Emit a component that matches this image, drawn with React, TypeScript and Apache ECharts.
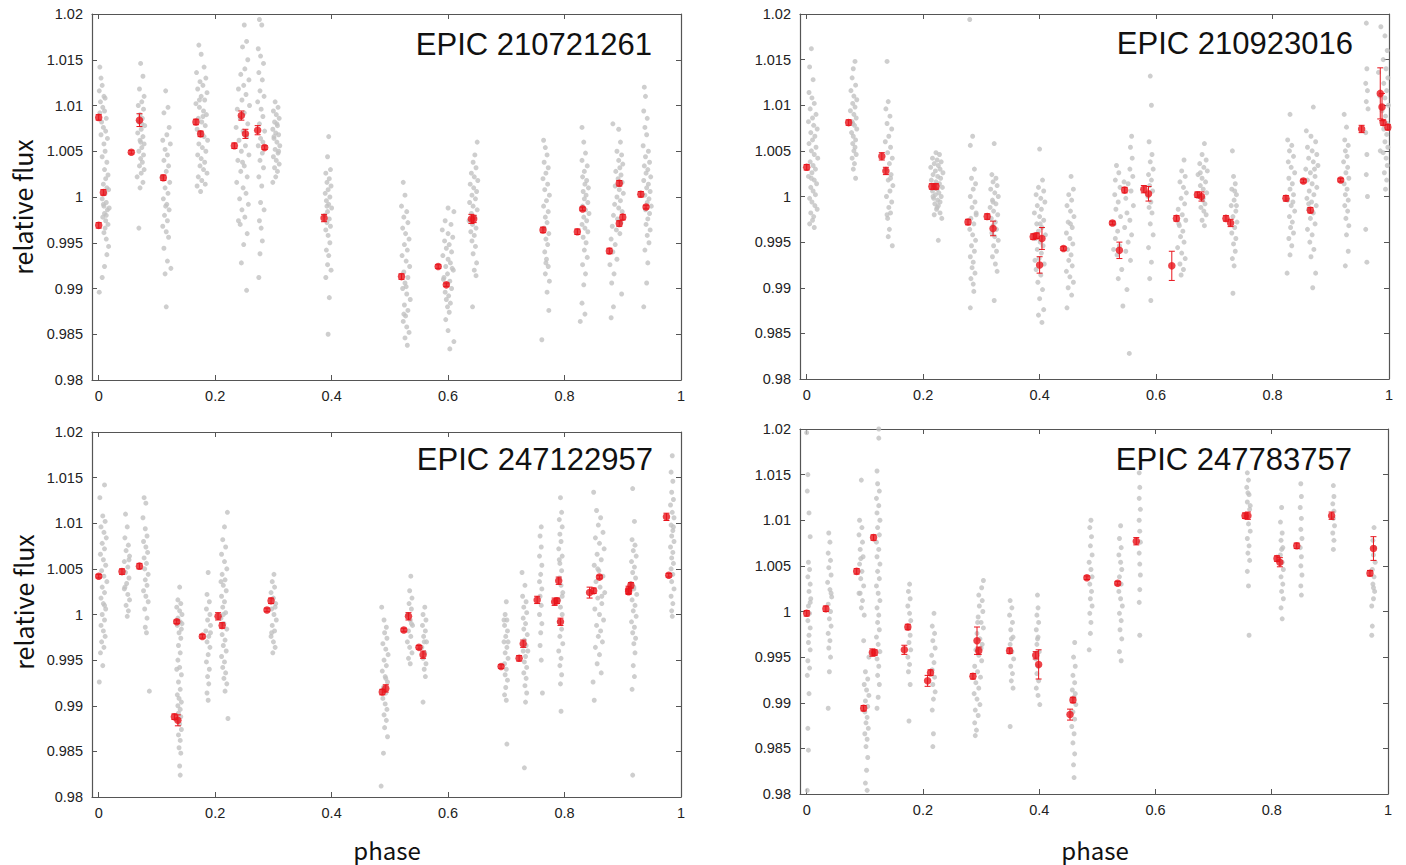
import React, { useEffect, useRef } from "react";
import * as echarts from "echarts";

// ---- tick labels / titles ----
const xTicks = [0, 0.2, 0.4, 0.6, 0.8, 1];
const yMin = 0.98;
const yMax = 1.02;
const yStep = 0.005;
const titles = ["EPIC 210721261", "EPIC 210923016", "EPIC 247122957", "EPIC 247783757"];
const yName = "relative flux";
const xName = "phase";

// gray points: [phase, (flux-1)*1000]
const grayA: number[][][] = [
  [[0.002,14.2],[0.004,13.0],[0.001,11.6],[0.006,12.2],[0.009,11.0],[0.003,10.4],[0.011,10.8],[0.007,9.8],[0.002,9.2],[0.010,9.4],[0.013,8.6],[0.005,8.2],[0.008,7.6],[0.012,7.2],[0.004,6.8],[0.015,6.4],[0.009,5.8],[0.011,5.0],[0.006,4.4],[0.014,3.8],[0.010,3.0],[0.016,2.4],[0.012,2.0],[0.008,1.4],[0.014,1.0],[0.011,0.4],[0.006,-0.2],[0.013,-0.6],[0.009,-1.0],[0.015,-1.4],[0.010,-1.8],[0.007,-2.2],[0.012,-2.6],[0.016,-3.0],[0.011,-3.4],[0.009,-3.9],[0.013,-4.6],[0.017,-5.4],[0.014,-6.3],[0.010,-7.6],[0.006,-8.8],[0.001,-10.4],[0.018,-1.2],[0.017,0.8],[0.013,-2.0],[0.008,-0.8]],
  [[0.072,14.6],[0.076,13.2],[0.070,11.8],[0.078,11.0],[0.074,10.4],[0.068,10.0],[0.077,9.6],[0.071,9.0],[0.075,8.6],[0.069,8.2],[0.079,7.8],[0.073,7.4],[0.067,7.0],[0.076,6.6],[0.071,6.2],[0.078,5.8],[0.074,5.4],[0.069,5.0],[0.077,4.6],[0.072,4.2],[0.075,3.8],[0.070,3.4],[0.078,3.0],[0.073,2.6],[0.066,2.2],[0.076,1.6],[0.071,1.0],[0.069,-3.4],[0.074,8.0],[0.072,6.0]],
  [[0.115,11.6],[0.119,9.8],[0.112,9.2],[0.121,7.6],[0.117,6.8],[0.110,6.2],[0.123,5.8],[0.114,5.2],[0.118,4.6],[0.112,4.0],[0.120,3.4],[0.116,2.8],[0.109,2.2],[0.122,1.6],[0.114,1.0],[0.119,0.4],[0.111,-0.2],[0.117,-0.8],[0.121,-1.4],[0.113,-2.0],[0.118,-2.6],[0.110,-3.2],[0.116,-3.8],[0.120,-4.4],[0.112,-5.6],[0.118,-7.0],[0.114,-8.4],[0.124,-7.8],[0.116,-12.0],[0.115,-1.0]],
  [[0.172,16.6],[0.176,15.6],[0.181,14.2],[0.168,13.6],[0.184,13.0],[0.174,12.6],[0.179,12.2],[0.170,11.8],[0.186,11.4],[0.176,11.0],[0.182,10.6],[0.167,10.2],[0.173,9.8],[0.180,9.4],[0.185,9.0],[0.171,8.6],[0.177,8.2],[0.183,7.8],[0.169,7.4],[0.175,7.0],[0.181,6.6],[0.187,6.2],[0.172,5.8],[0.178,5.4],[0.184,5.0],[0.170,4.6],[0.176,4.2],[0.182,3.8],[0.174,3.4],[0.180,3.0],[0.186,2.6],[0.171,2.2],[0.177,1.8],[0.169,1.2],[0.175,0.6],[0.183,1.4],[0.179,8.8],[0.173,10.6]],
  [[0.250,18.8],[0.254,17.0],[0.247,16.4],[0.256,15.0],[0.251,14.0],[0.244,13.4],[0.258,12.8],[0.249,12.2],[0.240,11.8],[0.253,11.2],[0.246,10.6],[0.259,10.0],[0.238,9.6],[0.250,9.2],[0.243,8.6],[0.256,8.0],[0.236,7.6],[0.248,7.2],[0.254,6.6],[0.241,6.2],[0.252,5.6],[0.245,5.0],[0.258,4.6],[0.239,4.0],[0.250,3.4],[0.244,2.8],[0.255,2.2],[0.237,1.6],[0.248,1.0],[0.253,0.4],[0.242,-0.2],[0.257,-0.8],[0.246,-1.4],[0.251,-2.2],[0.243,-3.0],[0.255,-4.0],[0.249,-5.2],[0.245,-7.2],[0.254,-10.2],[0.240,-2.6],[0.247,3.8]],
  [[0.276,19.4],[0.280,18.8],[0.274,16.2],[0.278,15.4],[0.283,14.6],[0.275,13.6],[0.281,12.8],[0.277,11.6],[0.284,11.0],[0.273,10.4],[0.279,9.6],[0.282,8.8],[0.276,8.0],[0.285,7.2],[0.278,6.4],[0.274,5.6],[0.281,4.8],[0.277,4.0],[0.283,3.2],[0.275,2.2],[0.280,1.2],[0.278,-0.6],[0.276,-2.6],[0.279,-3.4],[0.281,-4.8],[0.277,-6.2],[0.275,-8.8],[0.284,-1.4],[0.282,6.0]],
  [[0.303,10.4],[0.308,9.8],[0.300,9.4],[0.305,9.0],[0.310,8.6],[0.302,8.2],[0.307,7.8],[0.299,7.4],[0.304,7.0],[0.309,6.8],[0.301,6.4],[0.306,6.0],[0.311,5.6],[0.303,5.2],[0.308,4.8],[0.300,4.4],[0.305,4.0],[0.310,3.6],[0.302,3.2],[0.307,2.8],[0.304,2.2],[0.299,1.6],[0.306,8.0],[0.309,5.0],[0.301,6.6]],
  [[0.395,6.6],[0.393,4.4],[0.398,3.0],[0.390,2.6],[0.396,2.0],[0.392,1.6],[0.399,1.2],[0.394,0.8],[0.389,0.4],[0.397,0.0],[0.391,-0.4],[0.395,-0.8],[0.400,-1.2],[0.393,-1.6],[0.388,-2.0],[0.396,-2.4],[0.392,-2.8],[0.398,-3.2],[0.390,-3.6],[0.394,-4.2],[0.397,-5.0],[0.391,-5.8],[0.395,-6.4],[0.393,-7.4],[0.399,-8.0],[0.390,-8.8],[0.396,-11.0],[0.394,-15.0],[0.392,-1.0]],
  [[0.523,1.6],[0.526,0.2],[0.520,-1.0],[0.529,-1.6],[0.524,-2.2],[0.531,-2.8],[0.522,-3.4],[0.527,-4.0],[0.533,-4.6],[0.525,-5.2],[0.530,-5.8],[0.521,-6.4],[0.528,-7.0],[0.534,-7.6],[0.524,-8.2],[0.531,-8.8],[0.526,-9.4],[0.522,-10.0],[0.529,-10.6],[0.535,-11.2],[0.525,-11.8],[0.531,-12.4],[0.527,-13.0],[0.523,-13.6],[0.529,-14.2],[0.533,-14.8],[0.526,-15.4],[0.530,-16.2],[0.524,-12.8],[0.528,-9.8]],
  [[0.600,-1.2],[0.610,-1.6],[0.595,-2.6],[0.605,-3.0],[0.590,-3.6],[0.600,-4.0],[0.608,-4.4],[0.594,-4.8],[0.602,-5.2],[0.597,-5.6],[0.606,-6.0],[0.591,-6.4],[0.600,-6.8],[0.604,-7.2],[0.596,-7.6],[0.609,-8.0],[0.599,-8.4],[0.593,-8.8],[0.603,-9.2],[0.598,-9.6],[0.606,-10.0],[0.595,-10.4],[0.601,-10.8],[0.597,-11.2],[0.604,-11.6],[0.599,-12.0],[0.602,-12.6],[0.596,-13.4],[0.600,-14.6],[0.610,-15.8],[0.603,-16.6],[0.592,-9.0],[0.607,-7.8]],
  [[0.650,6.0],[0.646,4.6],[0.643,3.8],[0.648,3.2],[0.640,2.6],[0.645,2.2],[0.651,1.8],[0.638,1.4],[0.644,1.0],[0.649,0.6],[0.641,0.2],[0.647,-0.2],[0.637,-0.6],[0.643,-1.0],[0.650,-1.4],[0.640,-1.8],[0.646,-2.2],[0.636,-2.6],[0.642,-3.0],[0.648,-3.4],[0.639,-3.8],[0.645,-4.2],[0.641,-4.8],[0.647,-5.4],[0.643,-6.2],[0.649,-7.2],[0.645,-8.0],[0.648,-8.6],[0.642,-12.0]],
  [[0.764,6.2],[0.767,5.4],[0.770,4.6],[0.765,3.8],[0.772,3.2],[0.768,2.6],[0.763,2.0],[0.771,1.4],[0.766,0.8],[0.774,0.2],[0.769,-0.4],[0.764,-1.0],[0.772,-1.6],[0.767,-2.2],[0.770,-2.8],[0.765,-3.4],[0.773,-4.0],[0.768,-4.6],[0.771,-5.2],[0.766,-6.0],[0.769,-6.8],[0.772,-7.6],[0.767,-8.4],[0.774,-9.2],[0.770,-10.4],[0.773,-12.4],[0.768,-7.2],[0.761,-15.6]],
  [[0.830,7.6],[0.833,6.0],[0.836,4.8],[0.830,4.0],[0.839,3.4],[0.834,2.8],[0.831,2.2],[0.838,1.8],[0.835,1.4],[0.841,1.0],[0.832,0.6],[0.837,0.2],[0.834,-0.2],[0.840,-0.6],[0.831,-1.0],[0.836,-1.4],[0.842,-1.8],[0.833,-2.2],[0.838,-2.6],[0.830,-3.0],[0.835,-3.4],[0.840,-3.8],[0.832,-4.4],[0.837,-5.0],[0.834,-5.8],[0.839,-6.6],[0.831,-7.4],[0.836,-8.4],[0.833,-9.6],[0.830,-11.6],[0.827,-13.6],[0.835,-12.8]],
  [[0.883,8.0],[0.893,7.4],[0.896,6.0],[0.890,5.0],[0.898,4.6],[0.893,4.0],[0.900,3.6],[0.895,3.2],[0.888,2.8],[0.897,2.4],[0.892,2.0],[0.899,1.6],[0.887,1.2],[0.894,0.8],[0.901,0.4],[0.890,0.0],[0.896,-0.4],[0.886,-0.8],[0.893,-1.2],[0.899,-1.6],[0.884,-2.0],[0.891,-2.4],[0.897,-2.8],[0.882,-3.2],[0.889,-3.6],[0.895,-4.0],[0.880,-4.6],[0.887,-5.2],[0.883,-6.0],[0.890,-6.8],[0.878,-7.4],[0.885,-8.4],[0.881,-9.4],[0.898,-10.6],[0.884,-12.0],[0.880,-13.2]],
  [[0.937,12.0],[0.939,11.0],[0.936,9.4],[0.942,8.6],[0.938,7.6],[0.941,6.8],[0.935,5.6],[0.944,5.0],[0.939,4.4],[0.946,3.8],[0.937,3.4],[0.943,3.0],[0.940,2.6],[0.948,2.2],[0.936,1.8],[0.944,1.4],[0.941,1.0],[0.947,0.6],[0.938,0.2],[0.945,-0.2],[0.942,-0.6],[0.949,-1.0],[0.939,-1.4],[0.946,-1.8],[0.943,-2.4],[0.940,-3.0],[0.947,-3.6],[0.942,-4.2],[0.945,-5.0],[0.938,-5.8],[0.943,-7.2],[0.941,-9.4],[0.936,-12.0]],
];

const grayB: number[][][] = [
  [[0.008,16.2],[0.005,14.2],[0.011,12.8],[0.004,11.4],[0.009,10.8],[0.013,10.2],[0.006,9.6],[0.016,9.0],[0.010,8.6],[0.003,8.2],[0.012,7.8],[0.018,7.4],[0.007,7.0],[0.014,6.6],[0.010,6.2],[0.004,5.8],[0.016,5.4],[0.008,5.0],[0.013,4.6],[0.019,4.2],[0.006,3.8],[0.011,3.4],[0.015,3.0],[0.009,2.6],[0.003,2.2],[0.013,1.8],[0.017,1.4],[0.007,1.0],[0.011,0.6],[0.015,0.2],[0.005,-0.2],[0.009,-0.6],[0.014,-1.0],[0.018,-1.4],[0.007,-1.8],[0.012,-2.2],[0.010,-2.6],[0.005,-3.0],[0.013,-3.4],[0.008,2.0]],
  [[0.083,14.8],[0.080,14.0],[0.078,13.0],[0.084,12.2],[0.076,11.6],[0.081,11.0],[0.086,10.6],[0.079,10.2],[0.083,9.8],[0.075,9.4],[0.081,9.0],[0.085,8.6],[0.078,8.2],[0.082,7.8],[0.086,7.4],[0.077,7.0],[0.080,6.6],[0.084,6.2],[0.079,5.8],[0.083,5.4],[0.081,5.0],[0.085,4.6],[0.078,4.2],[0.082,3.6],[0.080,3.0],[0.084,2.0],[0.079,8.0]],
  [[0.138,14.8],[0.140,10.4],[0.136,9.6],[0.143,8.8],[0.138,8.0],[0.146,7.4],[0.141,6.6],[0.135,6.0],[0.144,5.4],[0.139,4.8],[0.147,4.2],[0.142,3.6],[0.136,3.0],[0.145,2.4],[0.140,1.8],[0.148,1.2],[0.143,0.6],[0.137,0.0],[0.146,-0.6],[0.141,-1.2],[0.144,-1.8],[0.139,-2.4],[0.142,-3.6],[0.140,-4.4],[0.147,-5.4],[0.138,-2.0],[0.144,2.0]],
  [[0.222,4.8],[0.228,4.6],[0.216,4.2],[0.224,4.0],[0.231,3.8],[0.219,3.6],[0.226,3.4],[0.213,3.2],[0.229,3.0],[0.221,2.8],[0.234,2.6],[0.217,2.4],[0.225,2.2],[0.230,2.0],[0.214,1.8],[0.222,1.6],[0.228,1.4],[0.219,1.2],[0.233,1.0],[0.224,0.8],[0.216,0.6],[0.227,0.4],[0.221,0.2],[0.231,0.0],[0.218,-0.2],[0.225,-0.4],[0.229,-0.6],[0.220,-0.8],[0.226,-1.0],[0.223,-1.4],[0.229,-1.8],[0.219,-2.0],[0.232,-2.4],[0.226,-4.8],[0.224,-1.2],[0.217,0.0]],
  [[0.280,19.4],[0.281,5.6],[0.285,6.6],[0.288,3.0],[0.283,2.0],[0.290,1.4],[0.286,0.8],[0.281,0.0],[0.289,-0.6],[0.284,-1.2],[0.291,-1.8],[0.282,-2.4],[0.287,-3.0],[0.280,-3.6],[0.285,-4.2],[0.290,-4.8],[0.283,-5.4],[0.288,-6.0],[0.281,-6.6],[0.286,-7.2],[0.284,-7.8],[0.289,-8.4],[0.282,-9.0],[0.287,-10.4],[0.281,-12.2],[0.286,-9.6],[0.291,-2.0]],
  [[0.322,5.8],[0.318,2.4],[0.325,2.0],[0.320,1.6],[0.327,1.2],[0.316,0.8],[0.323,0.4],[0.329,0.0],[0.319,-0.4],[0.325,-0.8],[0.315,-1.2],[0.321,-1.6],[0.328,-2.0],[0.317,-2.4],[0.324,-2.8],[0.320,-3.2],[0.326,-3.6],[0.318,-4.0],[0.323,-4.4],[0.329,-4.8],[0.321,-5.4],[0.326,-6.0],[0.319,-6.6],[0.324,-7.4],[0.327,-8.2],[0.322,-11.4],[0.320,-0.6]],
  [[0.400,5.2],[0.405,1.8],[0.398,1.0],[0.407,0.6],[0.394,0.2],[0.402,-0.2],[0.409,-0.6],[0.396,-1.0],[0.403,-1.4],[0.391,-1.8],[0.400,-2.2],[0.407,-2.6],[0.395,-3.0],[0.404,-3.4],[0.398,-3.8],[0.410,-4.2],[0.393,-4.6],[0.401,-5.0],[0.406,-5.4],[0.396,-5.8],[0.403,-6.2],[0.399,-6.8],[0.408,-7.4],[0.394,-8.0],[0.402,-8.6],[0.397,-9.4],[0.405,-10.2],[0.400,-11.2],[0.407,-12.4],[0.398,-13.0],[0.404,-13.8],[0.392,-7.0],[0.401,-3.0]],
  [[0.454,2.2],[0.458,0.8],[0.450,0.2],[0.455,-0.4],[0.447,-1.0],[0.453,-1.6],[0.459,-2.2],[0.449,-2.8],[0.456,-3.4],[0.446,-4.0],[0.452,-4.6],[0.457,-5.2],[0.448,-5.8],[0.454,-6.4],[0.450,-7.0],[0.456,-7.6],[0.446,-8.2],[0.452,-8.8],[0.458,-9.4],[0.449,-10.0],[0.455,-10.8],[0.447,-12.2],[0.453,-3.0]],
  [[0.558,6.6],[0.556,5.4],[0.559,4.2],[0.532,3.4],[0.555,3.0],[0.536,2.6],[0.560,2.2],[0.530,1.8],[0.552,1.4],[0.538,1.0],[0.557,0.6],[0.529,0.2],[0.548,-0.2],[0.535,-0.6],[0.561,-1.0],[0.531,-1.4],[0.550,-1.8],[0.539,-2.2],[0.555,-2.6],[0.528,-3.0],[0.546,-3.4],[0.534,-3.8],[0.558,-4.2],[0.530,-4.6],[0.552,-5.0],[0.537,-5.4],[0.548,-6.0],[0.533,-6.4],[0.556,-7.0],[0.541,-8.0],[0.535,-9.0],[0.550,-10.2],[0.543,-12.0],[0.554,-17.2],[0.527,-5.8],[0.545,1.6]],
  [[0.590,13.2],[0.592,10.0],[0.588,6.0],[0.593,4.6],[0.590,3.8],[0.595,3.0],[0.587,2.4],[0.592,1.8],[0.589,1.2],[0.594,0.6],[0.586,0.0],[0.591,-0.6],[0.588,-1.2],[0.593,-1.8],[0.590,-3.0],[0.595,-4.2],[0.587,-5.6],[0.592,-7.2],[0.589,-9.0],[0.591,-11.4]],
  [[0.648,4.0],[0.644,2.8],[0.650,2.2],[0.641,1.6],[0.647,1.0],[0.652,0.4],[0.643,-0.2],[0.649,-0.8],[0.638,-1.4],[0.645,-2.0],[0.651,-2.6],[0.640,-3.2],[0.646,-3.8],[0.642,-4.4],[0.648,-5.0],[0.637,-5.6],[0.644,-6.2],[0.650,-6.8],[0.641,-7.4],[0.647,-8.0],[0.643,-8.6],[0.639,-3.0]],
  [[0.683,5.8],[0.679,4.6],[0.686,4.0],[0.675,3.6],[0.682,3.2],[0.688,2.8],[0.672,2.4],[0.679,2.0],[0.685,1.6],[0.676,1.2],[0.681,0.8],[0.687,0.4],[0.674,0.0],[0.680,-0.4],[0.684,-0.8],[0.677,-1.2],[0.682,-1.6],[0.686,-2.0],[0.679,-2.6],[0.683,-3.2],[0.681,-0.2],[0.676,2.6]],
  [[0.731,5.0],[0.733,2.2],[0.736,1.4],[0.730,0.8],[0.738,0.2],[0.734,-0.4],[0.729,-1.0],[0.737,-1.6],[0.732,-2.2],[0.739,-2.8],[0.735,-3.4],[0.730,-4.0],[0.737,-4.6],[0.733,-5.2],[0.736,-6.0],[0.731,-6.8],[0.734,-7.6],[0.732,-10.6],[0.738,-1.0],[0.735,0.6]],
  [[0.830,9.0],[0.826,6.2],[0.833,5.6],[0.829,5.0],[0.836,4.4],[0.827,3.8],[0.832,3.2],[0.838,2.6],[0.828,2.0],[0.834,1.4],[0.830,0.8],[0.836,0.2],[0.826,-0.4],[0.832,-1.0],[0.838,-1.6],[0.829,-2.2],[0.834,-2.8],[0.831,-3.4],[0.836,-4.0],[0.828,-4.6],[0.833,-5.4],[0.830,-6.4],[0.825,-8.4],[0.835,-0.6]],
  [[0.870,9.8],[0.858,7.2],[0.866,6.6],[0.874,6.0],[0.860,5.4],[0.868,5.0],[0.876,4.6],[0.862,4.2],[0.870,3.8],[0.878,3.4],[0.857,3.0],[0.865,2.6],[0.873,2.2],[0.860,1.8],[0.868,1.4],[0.876,1.0],[0.863,0.6],[0.871,0.2],[0.859,-0.2],[0.867,-0.6],[0.875,-1.0],[0.862,-1.4],[0.870,-1.8],[0.865,-2.4],[0.873,-3.0],[0.860,-3.6],[0.868,-4.2],[0.864,-5.0],[0.871,-5.8],[0.866,-6.6],[0.874,-8.4],[0.869,-10.0],[0.862,-0.8],[0.872,3.0]],
  [[0.923,9.0],[0.927,7.6],[0.924,6.2],[0.930,5.6],[0.925,5.0],[0.928,4.4],[0.922,3.8],[0.929,3.2],[0.926,2.6],[0.931,2.0],[0.923,1.4],[0.928,0.8],[0.925,0.2],[0.930,-0.4],[0.924,-1.0],[0.929,-1.6],[0.926,-2.4],[0.931,-3.2],[0.927,-4.2],[0.930,-6.0],[0.925,-7.6]],
  [[0.961,19.0],[0.962,14.0],[0.960,12.4],[0.963,11.6],[0.961,10.4],[0.964,9.6],[0.960,7.0],[0.962,4.6],[0.961,2.4],[0.963,0.0],[0.960,-3.6],[0.962,-7.2]],
  [[0.986,18.6],[0.993,17.6],[0.997,16.0],[0.990,15.0],[0.995,14.0],[0.998,13.0],[0.991,12.4],[0.996,11.6],[0.993,10.8],[0.999,10.0],[0.988,9.4],[0.994,8.8],[0.997,8.0],[0.991,7.4],[0.996,6.8],[0.993,6.0],[0.998,5.4],[0.990,4.8],[0.995,4.2],[0.997,3.4],[0.992,2.6],[0.996,1.8],[0.994,0.8],[0.982,13.6],[0.984,11.0],[0.985,5.0]],
];

const grayC: number[][][] = [
  [[0.010,14.2],[0.002,12.8],[0.007,10.8],[0.011,10.2],[0.004,9.6],[0.009,9.0],[0.013,8.4],[0.006,7.8],[0.010,7.2],[0.003,6.6],[0.008,6.0],[0.012,5.4],[0.005,4.8],[0.009,4.2],[0.014,3.6],[0.006,3.0],[0.010,2.4],[0.004,1.8],[0.008,1.2],[0.012,0.6],[0.006,0.0],[0.010,-0.6],[0.004,-1.2],[0.008,-1.8],[0.011,-2.4],[0.005,-3.0],[0.009,-3.6],[0.003,-4.2],[0.007,-5.6],[0.001,-7.4],[0.010,1.0]],
  [[0.046,11.0],[0.049,9.6],[0.045,8.4],[0.051,7.6],[0.047,7.0],[0.053,6.4],[0.044,5.8],[0.050,5.2],[0.046,4.6],[0.052,4.0],[0.048,3.4],[0.044,2.8],[0.050,2.2],[0.053,1.6],[0.047,1.0],[0.051,0.4],[0.049,-0.2],[0.045,3.0],[0.052,6.0]],
  [[0.078,12.8],[0.081,12.2],[0.076,10.6],[0.080,9.4],[0.083,8.6],[0.077,8.0],[0.081,7.4],[0.084,6.8],[0.078,6.2],[0.082,5.6],[0.079,5.0],[0.085,4.4],[0.080,3.8],[0.083,3.2],[0.077,2.6],[0.081,2.0],[0.085,1.4],[0.079,0.6],[0.083,-0.4],[0.080,-1.4],[0.082,-2.0],[0.087,-8.4]],
  [[0.139,3.0],[0.136,1.6],[0.141,1.2],[0.134,0.8],[0.139,0.4],[0.143,0.0],[0.136,-0.4],[0.140,-0.8],[0.135,-1.2],[0.142,-1.6],[0.138,-2.0],[0.141,-2.6],[0.137,-3.4],[0.140,-4.2],[0.136,-5.0],[0.139,-5.8],[0.142,-6.6],[0.137,-7.4],[0.140,-8.2],[0.135,-8.8],[0.138,-9.2],[0.142,-9.6],[0.136,-10.0],[0.140,-10.4],[0.137,-10.8],[0.141,-11.2],[0.136,-11.6],[0.139,-12.0],[0.142,-12.6],[0.137,-13.2],[0.140,-13.8],[0.138,-14.6],[0.141,-15.2],[0.139,-16.6],[0.140,-17.6],[0.143,-1.0],[0.134,-6.0]],
  [[0.188,4.6],[0.186,2.2],[0.190,1.4],[0.185,0.6],[0.191,0.0],[0.187,-0.6],[0.192,-1.2],[0.184,-1.8],[0.189,-2.4],[0.186,-3.0],[0.191,-3.6],[0.188,-4.4],[0.185,-5.2],[0.190,-6.0],[0.187,-6.8],[0.189,-7.6],[0.186,-8.6],[0.188,-9.4],[0.192,-2.0]],
  [[0.221,11.2],[0.216,9.6],[0.213,8.2],[0.218,7.4],[0.211,6.6],[0.216,5.8],[0.220,5.0],[0.212,4.4],[0.217,3.8],[0.214,3.2],[0.219,2.6],[0.211,2.0],[0.216,1.4],[0.213,0.8],[0.218,0.2],[0.210,-0.4],[0.215,-1.0],[0.220,-1.6],[0.212,-2.2],[0.217,-2.8],[0.214,-3.4],[0.219,-4.0],[0.211,-4.6],[0.216,-5.2],[0.213,-5.8],[0.218,-6.4],[0.215,-7.0],[0.220,-7.6],[0.217,-8.4],[0.222,-11.4],[0.214,0.0],[0.210,3.6]],
  [[0.301,4.4],[0.298,3.6],[0.302,3.0],[0.296,2.4],[0.300,1.8],[0.304,1.2],[0.297,0.6],[0.301,0.0],[0.305,-0.6],[0.298,-1.2],[0.302,-1.8],[0.296,-2.4],[0.300,-3.0],[0.303,-3.6],[0.299,-4.2],[0.297,-2.0],[0.303,0.8]],
  [[0.486,0.8],[0.490,-0.6],[0.494,-1.4],[0.491,-2.0],[0.495,-2.6],[0.488,-3.2],[0.493,-3.8],[0.497,-4.4],[0.490,-5.0],[0.494,-5.6],[0.487,-6.2],[0.492,-6.8],[0.496,-7.4],[0.489,-8.0],[0.493,-8.6],[0.488,-9.2],[0.492,-9.8],[0.495,-10.4],[0.490,-11.0],[0.494,-11.6],[0.491,-12.4],[0.496,-13.4],[0.489,-15.2],[0.485,-18.8],[0.493,-7.0]],
  [[0.536,4.2],[0.534,2.6],[0.538,1.8],[0.533,1.2],[0.537,0.6],[0.531,0.0],[0.535,-0.6],[0.539,-1.2],[0.532,-1.8],[0.536,-2.4],[0.530,-3.0],[0.534,-3.6],[0.538,-4.2],[0.532,-4.8],[0.535,-5.4],[0.537,-1.0]],
  [[0.560,0.8],[0.557,0.0],[0.562,-0.6],[0.556,-1.2],[0.561,-1.8],[0.558,-2.4],[0.563,-3.0],[0.555,-3.6],[0.560,-4.2],[0.557,-4.8],[0.562,-5.4],[0.559,-6.0],[0.561,-6.8],[0.557,-9.6],[0.559,-3.0]],
  [[0.700,1.4],[0.698,0.0],[0.701,-0.6],[0.697,-1.2],[0.702,-1.8],[0.699,-2.4],[0.696,-3.0],[0.701,-3.6],[0.698,-4.2],[0.703,-4.8],[0.697,-5.4],[0.700,-6.0],[0.698,-6.6],[0.702,-7.2],[0.699,-8.0],[0.697,-8.8],[0.700,-9.4],[0.701,-14.2],[0.703,-3.0],[0.696,-0.6]],
  [[0.727,4.6],[0.732,3.2],[0.728,2.0],[0.734,1.4],[0.730,0.8],[0.735,0.2],[0.729,-0.4],[0.733,-1.0],[0.730,-1.6],[0.736,-2.2],[0.731,-2.8],[0.734,-3.4],[0.729,-4.0],[0.733,-4.6],[0.731,-5.2],[0.735,-5.8],[0.730,-6.4],[0.734,-7.0],[0.732,-7.8],[0.735,-8.6],[0.733,-9.6],[0.731,-16.8],[0.737,-4.0]],
  [[0.760,9.6],[0.758,8.6],[0.760,7.4],[0.757,6.4],[0.761,5.4],[0.759,4.4],[0.757,3.6],[0.761,2.8],[0.758,2.0],[0.760,1.0],[0.757,0.0],[0.761,-1.0],[0.759,-2.0],[0.758,-3.4],[0.760,-5.0],[0.762,-8.6]],
  [[0.793,12.8],[0.795,11.2],[0.791,10.4],[0.796,9.6],[0.792,8.8],[0.794,8.0],[0.790,7.2],[0.796,6.4],[0.792,5.6],[0.795,4.8],[0.791,4.0],[0.794,3.2],[0.797,2.4],[0.790,1.6],[0.793,0.8],[0.796,0.0],[0.791,-0.8],[0.795,-1.6],[0.792,-2.4],[0.797,-3.2],[0.790,-4.0],[0.794,-4.8],[0.792,-5.6],[0.795,-6.6],[0.793,-7.6],[0.794,-10.6],[0.796,2.0],[0.791,6.0]],
  [[0.850,13.4],[0.855,11.4],[0.862,10.6],[0.858,9.8],[0.866,9.0],[0.853,8.4],[0.860,7.8],[0.868,7.2],[0.856,6.6],[0.863,6.0],[0.851,5.4],[0.859,4.8],[0.866,4.2],[0.854,3.6],[0.861,3.0],[0.869,2.4],[0.857,1.8],[0.864,1.2],[0.852,0.6],[0.860,0.0],[0.867,-0.6],[0.855,-1.2],[0.862,-1.8],[0.858,-2.4],[0.865,-3.0],[0.853,-3.6],[0.860,-4.4],[0.856,-5.4],[0.863,-6.4],[0.849,-7.4],[0.851,-9.4],[0.864,2.0],[0.857,5.0]],
  [[0.917,13.8],[0.920,10.2],[0.916,8.2],[0.921,7.6],[0.918,7.0],[0.923,6.4],[0.915,5.8],[0.920,5.2],[0.917,4.6],[0.922,4.0],[0.914,3.4],[0.919,2.8],[0.924,2.2],[0.916,1.6],[0.921,1.0],[0.918,0.4],[0.923,-0.2],[0.915,-0.8],[0.920,-1.4],[0.917,-2.0],[0.922,-2.6],[0.919,-3.2],[0.921,-4.2],[0.918,-5.6],[0.920,-6.8],[0.916,-8.2],[0.917,-17.6],[0.919,3.0]],
  [[0.985,17.4],[0.983,15.6],[0.986,14.6],[0.984,13.4],[0.987,12.6],[0.982,12.0],[0.985,11.2],[0.988,10.6],[0.983,9.8],[0.986,9.2],[0.984,8.6],[0.988,8.0],[0.982,7.4],[0.986,6.8],[0.984,6.2],[0.987,5.6],[0.983,5.0],[0.986,4.4],[0.984,3.6],[0.988,2.8],[0.983,2.0],[0.986,1.2],[0.984,0.4],[0.985,-0.2],[0.987,9.6]],
];

const grayD: number[][][] = [
  [[0.000,19.6],[0.002,15.0],[0.001,13.2],[0.004,10.8],[0.006,8.2],[0.003,5.4],[0.005,4.6],[0.002,3.8],[0.006,3.0],[0.004,2.2],[0.007,1.4],[0.003,0.6],[0.005,-0.2],[0.002,-1.0],[0.006,-1.8],[0.004,-2.6],[0.003,-3.4],[0.006,-4.2],[0.002,-5.4],[0.005,-6.2],[0.001,-7.0],[0.004,-9.0],[0.002,-12.8],[0.003,-15.2],[0.001,-19.6],[0.006,1.0]],
  [[0.038,8.6],[0.040,7.6],[0.037,6.4],[0.041,5.6],[0.038,4.8],[0.042,4.0],[0.036,3.2],[0.040,2.4],[0.043,1.6],[0.037,0.8],[0.041,0.0],[0.039,-0.8],[0.042,-1.6],[0.037,-2.4],[0.040,-3.2],[0.038,-4.0],[0.041,-5.0],[0.039,-6.6],[0.037,-10.6],[0.042,2.0]],
  [[0.094,14.4],[0.091,10.0],[0.095,9.2],[0.090,8.4],[0.096,7.6],[0.092,6.8],[0.097,6.0],[0.091,5.2],[0.095,4.4],[0.093,3.6],[0.098,2.8],[0.092,2.0],[0.096,1.2],[0.094,0.4],[0.099,-0.4],[0.093,5.8],[0.090,2.0]],
  [[0.101,-6.6],[0.105,-7.4],[0.099,-8.0],[0.103,-8.6],[0.107,-9.2],[0.101,-9.8],[0.105,-10.4],[0.100,-11.0],[0.104,-11.6],[0.102,-12.2],[0.106,-12.8],[0.100,-13.4],[0.104,-14.0],[0.102,-14.8],[0.105,-16.0],[0.103,-17.4],[0.101,-18.8],[0.104,-19.6],[0.098,-3.2],[0.107,-5.0]],
  [[0.124,20.0],[0.124,19.0],[0.121,15.4],[0.122,14.0],[0.125,13.2],[0.120,12.4],[0.124,11.6],[0.121,10.8],[0.126,10.0],[0.122,9.2],[0.125,8.4],[0.120,7.6],[0.124,6.8],[0.121,6.0],[0.126,5.2],[0.122,4.4],[0.125,3.6],[0.120,2.8],[0.123,2.0],[0.126,1.2],[0.121,0.4],[0.124,-0.4],[0.122,-1.2],[0.125,-2.0],[0.120,-2.8],[0.123,-3.6],[0.126,-4.4],[0.121,-5.2],[0.124,-6.0],[0.122,-7.0],[0.125,-8.0],[0.123,-9.4],[0.121,-10.6]],
  [[0.177,3.0],[0.175,2.2],[0.178,1.4],[0.174,0.6],[0.177,-0.2],[0.179,-1.0],[0.175,-1.8],[0.178,-2.6],[0.176,-3.4],[0.179,-4.2],[0.174,-5.0],[0.177,-5.8],[0.175,-6.6],[0.178,-8.0],[0.176,-12.0]],
  [[0.219,-0.2],[0.216,-1.6],[0.220,-2.4],[0.217,-3.2],[0.221,-4.0],[0.215,-4.8],[0.219,-5.6],[0.216,-6.4],[0.220,-7.2],[0.217,-8.0],[0.221,-8.8],[0.218,-9.6],[0.216,-10.8],[0.218,-13.4],[0.217,-14.8]],
  [[0.304,3.4],[0.301,2.6],[0.296,1.8],[0.302,1.2],[0.297,0.6],[0.303,0.0],[0.295,-0.6],[0.300,-1.2],[0.304,-1.8],[0.293,-2.4],[0.298,-3.0],[0.302,-3.6],[0.291,-4.2],[0.296,-4.8],[0.301,-5.4],[0.289,-6.0],[0.294,-6.6],[0.299,-7.2],[0.291,-7.8],[0.296,-8.4],[0.288,-9.0],[0.293,-9.6],[0.298,-10.2],[0.290,-10.8],[0.295,-11.4],[0.289,-12.2],[0.292,-13.0],[0.290,-13.6],[0.300,-4.0],[0.294,-1.2]],
  [[0.350,1.2],[0.353,0.4],[0.349,-0.4],[0.354,-1.2],[0.351,-2.0],[0.355,-2.8],[0.350,-3.6],[0.353,-4.4],[0.356,-5.2],[0.351,-6.0],[0.354,-6.8],[0.352,-7.6],[0.355,-8.4],[0.350,-12.6],[0.352,-3.0]],
  [[0.397,1.8],[0.398,0.4],[0.396,-0.4],[0.399,-1.2],[0.395,-2.0],[0.398,-2.8],[0.396,-3.6],[0.400,-4.4],[0.394,-5.2],[0.398,-6.0],[0.396,-6.8],[0.399,-7.6],[0.395,-8.4],[0.398,-9.2],[0.401,-10.2],[0.397,-3.0]],
  [[0.461,-3.4],[0.459,-5.0],[0.462,-6.0],[0.458,-7.0],[0.461,-7.8],[0.457,-8.6],[0.460,-9.4],[0.463,-10.2],[0.458,-11.0],[0.461,-11.8],[0.456,-12.6],[0.460,-13.4],[0.458,-14.4],[0.461,-15.6],[0.459,-16.8],[0.460,-18.2],[0.462,-9.0]],
  [[0.489,10.0],[0.487,9.2],[0.490,8.2],[0.488,7.2],[0.491,6.2],[0.486,5.4],[0.489,4.6],[0.491,3.8],[0.487,3.0],[0.490,2.2],[0.488,1.4],[0.491,0.6],[0.487,-0.2],[0.489,-1.2],[0.488,-2.4],[0.486,-4.2]],
  [[0.540,9.4],[0.538,8.0],[0.541,7.0],[0.537,6.2],[0.540,5.4],[0.542,4.6],[0.538,3.8],[0.541,3.0],[0.537,2.2],[0.540,1.4],[0.543,0.6],[0.538,-0.2],[0.541,-1.0],[0.539,-2.0],[0.542,-3.0],[0.538,-4.4],[0.541,-5.4]],
  [[0.572,15.2],[0.573,13.6],[0.572,12.4],[0.574,11.2],[0.572,10.0],[0.573,8.8],[0.574,7.6],[0.572,6.4],[0.573,5.2],[0.574,4.0],[0.573,2.4],[0.572,1.0],[0.573,-2.6]],
  [[0.758,15.2],[0.760,14.4],[0.757,13.6],[0.761,12.8],[0.758,12.0],[0.762,11.2],[0.757,10.4],[0.760,9.6],[0.763,8.8],[0.758,8.0],[0.761,7.2],[0.759,6.4],[0.762,5.6],[0.758,4.4],[0.760,2.8],[0.761,-2.6],[0.763,11.6],[0.759,13.0]],
  [[0.817,11.4],[0.815,9.8],[0.818,8.6],[0.816,7.8],[0.819,7.0],[0.815,6.2],[0.818,5.4],[0.820,4.6],[0.816,3.8],[0.819,3.0],[0.817,2.2],[0.820,1.4],[0.816,0.4],[0.818,-0.8],[0.817,6.8]],
  [[0.850,14.0],[0.851,12.6],[0.849,11.4],[0.851,10.2],[0.850,9.0],[0.852,8.0],[0.849,7.0],[0.851,6.0],[0.850,5.0],[0.852,4.0],[0.850,2.8],[0.851,1.8]],
  [[0.906,13.8],[0.907,12.6],[0.905,11.8],[0.907,11.0],[0.906,10.2],[0.908,9.4],[0.905,8.6],[0.907,7.8],[0.906,6.8]],
  [[0.976,9.2],[0.974,7.8],[0.977,7.0],[0.975,6.2],[0.978,5.4],[0.973,4.6],[0.976,3.8],[0.974,3.0],[0.977,2.2],[0.975,1.4],[0.972,0.6],[0.973,-1.6],[0.972,-2.6],[0.975,2.6]],
];

// binned red points: [phase, flux, error]
const redA: number[][] = [
  [0.000,1.0087,0.0003],[0.008,1.0005,0.0003],[0.000,0.9969,0.0003],[0.056,1.0049,0.0002],[0.070,1.0084,0.0007],[0.111,1.0021,0.0003],[0.167,1.0082,0.0003],[0.175,1.0069,0.0003],[0.233,1.0056,0.0003],[0.245,1.0089,0.0005],[0.252,1.0069,0.0005],[0.273,1.0073,0.0005],[0.285,1.0054,0.0002],[0.387,0.9977,0.0004],[0.520,0.9913,0.0003],[0.583,0.9924,0.0002],[0.597,0.9904,0.0002],[0.640,0.9976,0.0005],[0.644,0.9976,0.0004],[0.763,0.9964,0.0003],[0.822,0.9962,0.0003],[0.831,0.9987,0.0002],[0.877,0.9941,0.0003],[0.894,1.0015,0.0003],[0.894,0.9971,0.0003],[0.900,0.9978,0.0003],[0.931,1.0003,0.0003],[0.940,0.9989,0.0002],
];
const redB: number[][] = [
  [0.000,1.0032,0.0003],[0.072,1.0081,0.0003],[0.129,1.0044,0.0004],[0.136,1.0028,0.0004],[0.215,1.0011,0.0003],[0.222,1.0011,0.0003],[0.277,0.9972,0.0003],[0.310,0.9978,0.0003],[0.320,0.9965,0.0008],[0.389,0.9956,0.0003],[0.395,0.9957,0.0003],[0.404,0.9954,0.0012],[0.400,0.9925,0.0009],[0.441,0.9943,0.0002],[0.525,0.9971,0.0002],[0.537,0.9941,0.0009],[0.546,1.0007,0.0003],[0.579,1.0008,0.0004],[0.587,1.0003,0.0008],[0.627,0.9924,0.0016],[0.635,0.9976,0.0003],[0.671,1.0002,0.0003],[0.678,1.0000,0.0005],[0.720,0.9976,0.0003],[0.728,0.9971,0.0004],[0.823,0.9998,0.0003],[0.853,1.0017,0.0002],[0.865,0.9985,0.0003],[0.917,1.0018,0.0002],[0.953,1.0074,0.0004],[0.985,1.0113,0.0028],[0.988,1.0098,0.0015],[0.990,1.0081,0.0003],[0.998,1.0076,0.0003],
];
const redC: number[][] = [
  [0.000,1.0042,0.0002],[0.040,1.0047,0.0003],[0.070,1.0053,0.0003],[0.134,0.9992,0.0002],[0.130,0.9888,0.0003],[0.136,0.9884,0.0006],[0.178,0.9976,0.0002],[0.205,0.9998,0.0004],[0.212,0.9988,0.0003],[0.289,1.0005,0.0002],[0.296,1.0015,0.0003],[0.487,0.9915,0.0003],[0.493,0.9919,0.0004],[0.524,0.9983,0.0002],[0.532,0.9998,0.0004],[0.550,0.9964,0.0002],[0.557,0.9956,0.0004],[0.691,0.9943,0.0002],[0.722,0.9952,0.0003],[0.729,0.9968,0.0004],[0.753,1.0016,0.0004],[0.783,1.0014,0.0004],[0.787,1.0015,0.0003],[0.790,1.0037,0.0004],[0.793,0.9992,0.0004],[0.843,1.0024,0.0006],[0.850,1.0026,0.0003],[0.860,1.0041,0.0002],[0.910,1.0027,0.0004],[0.914,1.0032,0.0003],[0.910,1.0025,0.0003],[0.975,1.0107,0.0004],[0.979,1.0043,0.0002],
];
const redD: number[][] = [
  [0.000,0.9998,0.0003],[0.033,1.0003,0.0003],[0.086,1.0044,0.0003],[0.098,0.9894,0.0003],[0.115,1.0081,0.0003],[0.113,0.9955,0.0004],[0.117,0.9955,0.0003],[0.168,0.9958,0.0005],[0.174,0.9983,0.0003],[0.208,0.9924,0.0006],[0.213,0.9933,0.0003],[0.286,0.9929,0.0003],[0.293,0.9968,0.0015],[0.296,0.9957,0.0004],[0.349,0.9957,0.0003],[0.394,0.9952,0.0004],[0.399,0.9942,0.0016],[0.453,0.9887,0.0006],[0.458,0.9903,0.0003],[0.482,1.0037,0.0002],[0.535,1.0031,0.0002],[0.567,1.0077,0.0004],[0.754,1.0105,0.0003],[0.759,1.0105,0.0004],[0.809,1.0058,0.0003],[0.814,1.0054,0.0005],[0.843,1.0072,0.0003],[0.903,1.0105,0.0004],[0.969,1.0042,0.0003],[0.975,1.0069,0.0013],
];

const grays = [grayA, grayB, grayC, grayD];
const reds = [redA, redB, redC, redD];

// layout (pixels)
const grids = [
  { left: 92, top: 14, width: 589, height: 366 },
  { left: 800, top: 14, width: 589, height: 365 },
  { left: 92, top: 432, width: 589, height: 365 },
  { left: 800, top: 429, width: 588, height: 365 },
];
const titlePos = [
  [652, 44],
  [1353, 43],
  [653, 459],
  [1352, 459],
];

const FONT = '"Liberation Sans", Arial, Helvetica, sans-serif';
const NAME_FONT = '"Noto Sans CJK JP", "Noto Sans", sans-serif';
const AXIS_COLOR = "#555";
const GRAY = "#c2c2c2";
const RED = "#e8141c";

function buildOption() {
  const xAxis: any[] = [];
  const yAxis: any[] = [];
  const series: any[] = [];
  grids.forEach((g, i) => {
    const common = {
      type: "value",
      gridIndex: i,
      splitLine: { show: false },
      axisLine: { show: true, onZero: false, lineStyle: { color: AXIS_COLOR, width: 1.2 } },
    };
    xAxis.push({
      ...common,
      position: "bottom",
      min: -0.0115,
      max: 1,
      axisTick: { show: true, inside: true, length: 5, customValues: xTicks, lineStyle: { color: AXIS_COLOR } },
      axisLabel: {
        show: true,
        customValues: xTicks,
        formatter: (v: number) => String(v),
        fontSize: 14.5,
        color: "#222",
        margin: 8,
        fontFamily: FONT,
      },
    });
    xAxis.push({
      ...common,
      position: "top",
      min: -0.0115,
      max: 1,
      axisTick: { show: true, inside: true, length: 5, customValues: xTicks, lineStyle: { color: AXIS_COLOR } },
      axisLabel: { show: false },
    });
    yAxis.push({
      ...common,
      position: "left",
      min: yMin,
      max: yMax,
      interval: yStep,
      axisTick: { show: true, inside: true, length: 5, lineStyle: { color: AXIS_COLOR } },
      axisLabel: {
        show: true,
        formatter: (v: number) => String(parseFloat(v.toFixed(3))),
        fontSize: 14.5,
        color: "#222",
        margin: 9,
        fontFamily: FONT,
      },
    });
    yAxis.push({
      ...common,
      position: "right",
      min: yMin,
      max: yMax,
      interval: yStep,
      axisTick: { show: true, inside: true, length: 5, lineStyle: { color: AXIS_COLOR } },
      axisLabel: { show: false },
    });

    const grayPts: number[][] = [];
    grays[i].forEach((cl) => cl.forEach((p) => grayPts.push([p[0], 1 + p[1] / 1000])));
    series.push({
      type: "scatter",
      xAxisIndex: 2 * i,
      yAxisIndex: 2 * i,
      data: grayPts,
      symbol: "circle",
      symbolSize: 5,
      itemStyle: { color: GRAY },
      silent: true,
      z: 1,
    });
    series.push({
      type: "custom",
      xAxisIndex: 2 * i,
      yAxisIndex: 2 * i,
      data: reds[i],
      encode: { x: 0, y: 1 },
      silent: true,
      z: 2,
      renderItem: (params: any, api: any) => {
        const x = api.value(0);
        const y = api.value(1);
        const e = api.value(2);
        const t = api.coord([x, y + e]);
        const b = api.coord([x, y - e]);
        const hw = 3;
        const st = { stroke: RED, lineWidth: 1 };
        return {
          type: "group",
          children: [
            { type: "line", shape: { x1: t[0], y1: t[1], x2: b[0], y2: b[1] }, style: st },
            { type: "line", shape: { x1: t[0] - hw, y1: t[1], x2: t[0] + hw, y2: t[1] }, style: st },
            { type: "line", shape: { x1: b[0] - hw, y1: b[1], x2: b[0] + hw, y2: b[1] }, style: st },
          ],
        };
      },
    });
    series.push({
      type: "scatter",
      xAxisIndex: 2 * i,
      yAxisIndex: 2 * i,
      data: reds[i].map((r) => [r[0], r[1]]),
      symbol: "circle",
      symbolSize: 7.5,
      itemStyle: { color: RED },
      silent: true,
      z: 3,
    });
  });

  const graphic: any[] = [];
  titles.forEach((t, i) => {
    graphic.push({
      type: "text",
      x: titlePos[i][0],
      y: titlePos[i][1],
      silent: true,
      style: {
        text: t,
        fontSize: 31,
        fontFamily: FONT,
        fill: "#111",
        align: "right",
        verticalAlign: "middle",
      },
    });
  });
  [[22, 207], [23, 602]].forEach((p) => {
    graphic.push({
      type: "text",
      x: p[0],
      y: p[1],
      rotation: Math.PI / 2,
      silent: true,
      style: { text: yName, fontSize: 25, fontFamily: NAME_FONT, fill: "#111", align: "center", verticalAlign: "middle" },
    });
  });
  [[387, 849], [1095, 849]].forEach((p) => {
    graphic.push({
      type: "text",
      x: p[0],
      y: p[1],
      silent: true,
      style: { text: xName, fontSize: 24, fontFamily: NAME_FONT, fill: "#111", align: "center", verticalAlign: "middle" },
    });
  });

  return {
    animation: false,
    backgroundColor: "#ffffff",
    grid: grids.map((g) => ({ ...g, containLabel: false })),
    xAxis,
    yAxis,
    series,
    graphic,
  };
}

export default function App() {
  const ref = useRef<HTMLDivElement>(null);
  useEffect(() => {
    if (!ref.current) return;
    const chart = echarts.init(ref.current, undefined, { renderer: "svg" });
    chart.setOption(buildOption() as any);
    return () => chart.dispose();
  }, []);
  return (
    <div
      ref={ref}
      style={{ position: "fixed", left: 0, top: 0, width: 1406, height: 865, background: "#fff" }}
    />
  );
}
